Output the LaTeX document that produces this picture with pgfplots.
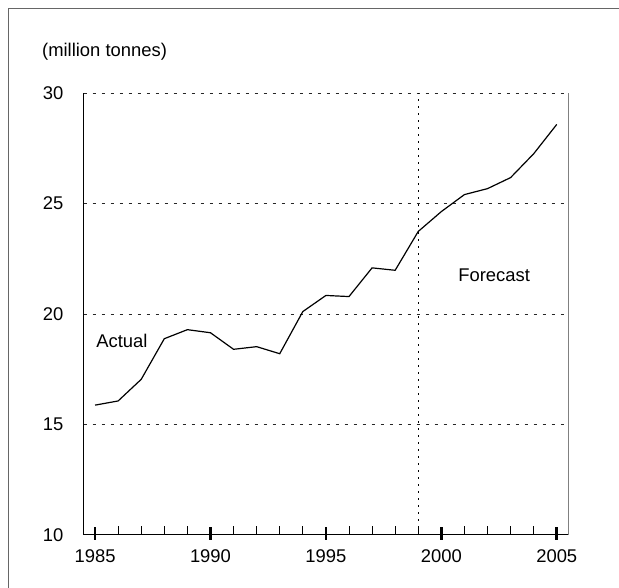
\documentclass[border=0pt]{standalone}
\usepackage{fontspec}
\setmainfont{Liberation Sans}
\usepackage{pgfplots}
\pgfplotsset{compat=1.18}
\begin{document}
\fontsize{18.4bp}{21bp}\selectfont
\begin{tikzpicture}[x=1bp,y=1bp]
\useasboundingbox (0,0) rectangle (619,588);
\draw[gray!80!black, line width=1.5bp] (8.3,0) -- (8.3,579.7) -- (619,579.7);
\begin{axis}[
  at={(83.5bp,53.3bp)}, anchor=south west,
  scale only axis, width=484.8bp, height=441.4bp,
  xmin=1984.5, xmax=2005.5, ymin=10, ymax=30,
  axis x line*=bottom, axis y line*=left,
  axis line style={line width=1.2bp, black},
  xtick={1985,1990,1995,2000,2005},
  minor xtick={1986,1987,1988,1989,1991,1992,1993,1994,1996,1997,1998,1999,2001,2002,2003,2004},
  xtick align=inside,
  major tick length=13bp, minor tick length=8.7bp,
  every major x tick/.append style={line width=2.6bp, black, yshift=-5bp},
  every minor x tick/.append style={line width=0.9bp, black},
  ytick={10,15,20,25,30},
  ytick style={draw=none},
  ymajorgrids,
  grid style={black!85, line width=0.8bp, dash pattern=on 3.5bp off 5.5bp},
  xticklabel style={inner sep=0pt, anchor=north, yshift=-14.6bp},
  yticklabel style={inner sep=0pt, anchor=east, xshift=-20bp},
  /pgf/number format/assume math mode=true,
  xticklabel={\pgfmathprintnumber[1000 sep={}]{\tick}},
  clip=false,
]
\draw[gray, line width=1.5bp] (rel axis cs:1,0) -- (rel axis cs:1,1);
\draw[black, line width=0.8bp, dash pattern=on 2bp off 5bp] (axis cs:1999,10) -- (axis cs:1999,30);
\addplot[black, line width=1.2bp, mark=none] coordinates {
(1985,15.87) (1986,16.06) (1987,17.04) (1988,18.88) (1989,19.29)
(1990,19.15) (1991,18.40) (1992,18.52) (1993,18.20) (1994,20.11)
(1995,20.84) (1996,20.79) (1997,22.09) (1998,21.98) (1999,23.74)
(2000,24.64) (2001,25.41) (2002,25.68) (2003,26.18) (2004,27.26)
(2005,28.59)};
\node[anchor=base west, inner sep=0pt] at (axis cs:1985.05,18.5) {Actual};
\node[anchor=base west, inner sep=0pt] at (axis cs:2000.73,21.46) {Forecast};
\end{axis}
\node[anchor=west, inner sep=0pt] at (42,536) {(million tonnes)};
\end{tikzpicture}
\end{document}
